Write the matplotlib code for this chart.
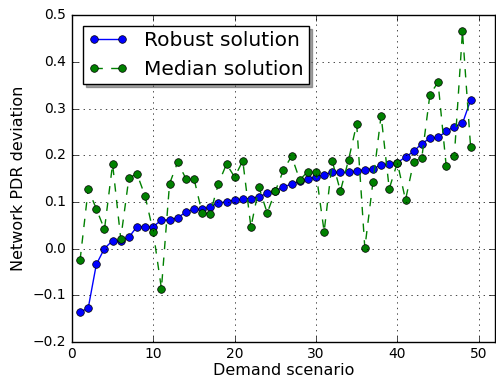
import numpy as np
import matplotlib
matplotlib.use('Agg')
import matplotlib.pyplot as plt

plt.style.use('classic')

# demand scenarios 1..49
scenarios = np.arange(1, 50)

robust = [-0.136, -0.128, -0.034, 0.000, 0.017, 0.017, 0.024, 0.047, 0.047, 0.047,
          0.061, 0.061, 0.066, 0.078, 0.084, 0.084, 0.089, 0.098, 0.100, 0.104,
          0.106, 0.107, 0.111, 0.118, 0.123, 0.132, 0.138, 0.144, 0.149, 0.153,
          0.158, 0.163, 0.163, 0.163, 0.166, 0.169, 0.171, 0.179, 0.181, 0.184,
          0.196, 0.208, 0.225, 0.236, 0.238, 0.251, 0.261, 0.268, 0.318]

median = [-0.025, 0.127, 0.085, 0.041, 0.181, 0.021, 0.151, 0.160, 0.112, 0.035,
          -0.086, 0.139, 0.185, 0.150, 0.150, 0.076, 0.075, 0.139, 0.181, 0.153,
          0.188, 0.046, 0.131, 0.076, 0.123, 0.168, 0.198, 0.147, 0.165, 0.163,
          0.036, 0.187, 0.123, 0.190, 0.267, 0.001, 0.143, 0.285, 0.128, 0.184,
          0.104, 0.186, 0.194, 0.330, 0.356, 0.177, 0.198, 0.465, 0.218]

fig = plt.figure(figsize=(4.96, 3.79), dpi=100, facecolor='white')
ax = fig.add_axes([0.145, 0.098, 0.853, 0.862])

ax.plot(scenarios, robust, 'b-o', markersize=5.5, markeredgewidth=0.5,
        label='Robust solution')
ax.plot(scenarios, median, 'g--o', markersize=5.5, markeredgewidth=0.5,
        label='Median solution')

ax.set_xlim(0, 52)
ax.set_ylim(-0.2, 0.5)
ax.set_xticks([0, 10, 20, 30, 40, 50])
ax.set_yticks(np.arange(-0.2, 0.51, 0.1))
ax.tick_params(labelsize=10)
ax.grid(True)

ax.set_xlabel('Demand scenario', fontsize=11.5, labelpad=1)
ax.set_ylabel('Network PDR deviation', fontsize=11.5, labelpad=5)

ax.legend(loc='upper left', shadow=True, fontsize=14.5, numpoints=2,
          borderaxespad=0.55, borderpad=0.25)

fig.savefig('out.png', dpi=100, facecolor='white')
